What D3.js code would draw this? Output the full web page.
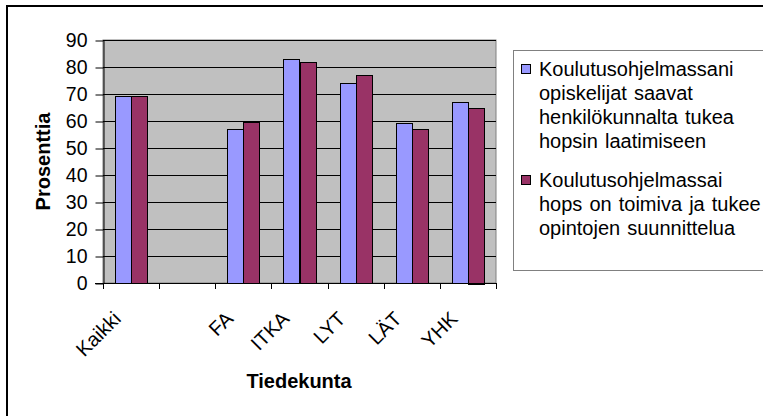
<!DOCTYPE html>
<html>
<head>
<meta charset="utf-8">
<script src="https://cdn.jsdelivr.net/npm/d3@7"></script>
<style>
  body { margin: 0; background: #fff; }
  svg { display: block; font-family: Arial, "Liberation Sans", sans-serif; }
</style>
</head>
<body>
<div id="chart"></div>
<script>
const categories = ["Kaikki", "", "FA", "ITKA", "LYT", "LÄT", "YHK"];
const seriesNames = [
  ["Koulutusohjelmassani", "opiskelijat saavat", "henkilökunnalta tukea", "hopsin laatimiseen"],
  ["Koulutusohjelmassai", "hops on toimiva ja tukee", "opintojen suunnittelua"]
];
const seriesA = [69.3, null, 57, 83, 74.2, 59.1, 67];
const seriesB = [69.3, null, 59.7, 81.7, 77, 56.9, 65];
const yTicks = [0, 10, 20, 30, 40, 50, 60, 70, 80, 90];
const colors = ["#9999FF", "#993366"];

const width = 763, height = 416;
const plot = {left: 103, top: 40, right: 496, bottom: 283};

const svg = d3.select("#chart").append("svg")
  .attr("width", width)
  .attr("height", height);

svg.append("rect").attr("width", width).attr("height", height).attr("fill", "#fff");

// outer chart border (runs off the right and bottom edge)
svg.append("rect")
  .attr("x", 7).attr("y", 6)
  .attr("width", 800).attr("height", 440)
  .attr("fill", "none").attr("stroke", "#000").attr("stroke-width", 2);

const xScale = d3.scaleBand().domain(d3.range(categories.length)).range([plot.left, plot.right]);
// gap width 150% -> 0.75 bar width on each side
const inner = d3.scaleBand().domain([0, 1]).range([0, xScale.bandwidth()]).paddingOuter(0.75).paddingInner(0);
const yScale = d3.scaleLinear().domain([0, 90]).range([plot.bottom, plot.top]);

svg.append("rect")
  .attr("x", plot.left).attr("y", plot.top)
  .attr("width", plot.right - plot.left).attr("height", plot.bottom - plot.top)
  .attr("fill", "#C0C0C0").attr("stroke", "#808080");

// gridlines
svg.append("g").selectAll("line")
  .data(yTicks.slice(1))
  .enter().append("line")
  .attr("x1", plot.left).attr("x2", plot.right)
  .attr("y1", d => Math.round(yScale(d)) + 0.5).attr("y2", d => Math.round(yScale(d)) + 0.5)
  .attr("stroke", "#000");

// bars
const series = [seriesA, seriesB];
series.forEach(function(vals, s) {
  svg.append("g").selectAll("rect")
    .data(vals.map((v, i) => ({v: v, i: i})).filter(d => d.v != null))
    .enter().append("rect")
    .attr("x", d => Math.round(xScale(d.i) + inner(s)) + 0.5)
    .attr("y", d => Math.round(yScale(d.v)) + 0.5)
    .attr("width", Math.round(inner.bandwidth()))
    .attr("height", d => Math.round(plot.bottom - yScale(d.v)))
    .attr("fill", colors[s])
    .attr("stroke", "#000");
});

// y axis
const yAxis = d3.axisLeft(yScale).tickValues(yTicks).tickSize(8).tickSizeOuter(0).tickPadding(8);
svg.append("g")
  .attr("transform", "translate(" + (plot.left + 0.5) + ",0.5)")
  .call(yAxis)
  .call(g => g.select(".domain").attr("stroke", "#000"))
  .call(g => g.selectAll("text").attr("font-size", 19.5).attr("fill", "#000").attr("font-family", "Arial, Liberation Sans, sans-serif"));

// x axis line and ticks at band edges
svg.append("line")
  .attr("x1", plot.left - 8).attr("x2", plot.right)
  .attr("y1", plot.bottom + 0.5).attr("y2", plot.bottom + 0.5)
  .attr("stroke", "#000");
svg.append("g").selectAll("line")
  .data(d3.range(categories.length + 1))
  .enter().append("line")
  .attr("x1", i => Math.round(plot.left + i * xScale.step()) + 0.5)
  .attr("x2", i => Math.round(plot.left + i * xScale.step()) + 0.5)
  .attr("y1", plot.bottom).attr("y2", plot.bottom + 6)
  .attr("stroke", "#000");

svg.append("g").selectAll("text")
  .data(categories)
  .enter().append("text")
  .attr("transform", (d, i) => "translate(" + (xScale(i) + xScale.bandwidth() / 2 - 9) + "," + (plot.bottom + 37) + ") rotate(-45)")
  .attr("text-anchor", "end")
  .attr("font-size", 20)
  .text(d => d);

// axis titles
svg.append("text")
  .attr("transform", "translate(50," + ((plot.top + plot.bottom) / 2) + ") rotate(-90)")
  .attr("text-anchor", "middle")
  .attr("font-size", 20).attr("font-weight", "bold")
  .text("Prosenttia");

svg.append("text")
  .attr("x", 299).attr("y", 388)
  .attr("text-anchor", "middle")
  .attr("font-size", 20).attr("font-weight", "bold")
  .text("Tiedekunta");

// legend
svg.append("rect")
  .attr("x", 513.5).attr("y", 50.5)
  .attr("width", 300).attr("height", 220)
  .attr("fill", "#fff").attr("stroke", "#808080");

const legendTop = [76, 187];
const legend = svg.append("g").selectAll("g")
  .data(seriesNames)
  .enter().append("g")
  .attr("transform", (d, i) => "translate(0," + legendTop[i] + ")");

legend.append("rect")
  .attr("x", 521.5).attr("y", -11.5)
  .attr("width", 9).attr("height", 9)
  .attr("fill", (d, i) => colors[i])
  .attr("stroke", "#000");

legend.append("text")
  .attr("font-size", 20)
  .attr("word-spacing", 1.5)
  .selectAll("tspan")
  .data(d => d)
  .enter().append("tspan")
  .attr("x", 539)
  .attr("y", (d, j) => j * 24)
  .text(d => d);
</script>
</body>
</html>
